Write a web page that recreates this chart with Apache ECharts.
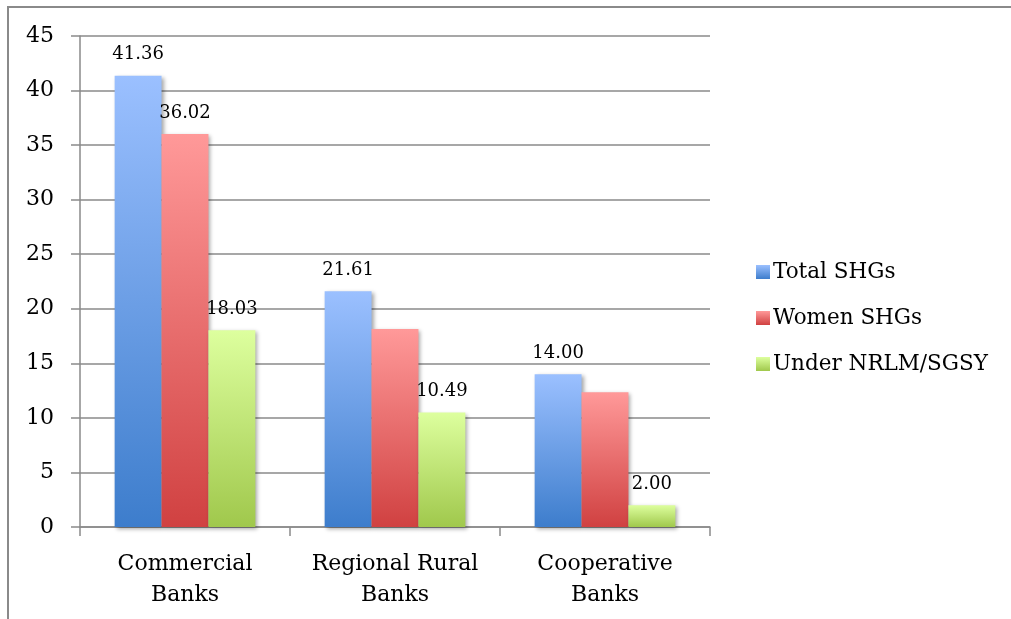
<!DOCTYPE html>
<html>
<head>
<meta charset="utf-8">
<script src="https://cdn.jsdelivr.net/npm/echarts@6/dist/echarts.min.js"></script>
<style>
  html, body { margin: 0; padding: 0; background: #fff; }
  #chart { width: 1011px; height: 619px; }
</style>
</head>
<body>
<div id="chart"></div>
<script>
// Bank categories along the x axis
const categories = ['Commercial\nBanks', 'Regional Rural\nBanks', 'Cooperative\nBanks'];

// Series values
const totalSHGs = [41.36, 21.61, 14.00];
const womenSHGs = [36.02, 18.15, 12.35];
const underNRLM = [18.03, 10.49, 2.00];

// Which points carry a value label
const totalLabelled = [true, true, true];
const womenLabelled = [true, false, false];
const nrlmLabelled = [true, true, true];

// Y axis ticks
const yTicks = [0, 5, 10, 15, 20, 25, 30, 35, 40, 45];

const FONT = 'DejaVu Serif';
const GRID_COLOR = '#8a8a8a';

function grad(top, bottom) {
  return new echarts.graphic.LinearGradient(0, 0, 0, 1, [
    { offset: 0, color: top },
    { offset: 1, color: bottom }
  ]);
}

const palette = {
  total: grad('#9bc0ff', '#3d7dcc'),
  women: grad('#ff9999', '#d04141'),
  nrlm: grad('#ddff9e', '#a0c84c')
};

function makeSeries(name, values, flags, fill) {
  return {
    name: name,
    type: 'bar',
    barGap: '0%',
    barCategoryGap: '33%',
    itemStyle: {
      color: fill,
      shadowColor: 'rgba(0,0,0,0.35)',
      shadowBlur: 4,
      shadowOffsetX: 2,
      shadowOffsetY: 2
    },
    data: values.map((v, i) => ({
      value: v,
      label: {
        show: flags[i],
        position: 'top',
        distance: 12,
        formatter: p => p.value.toFixed(2),
        fontFamily: FONT,
        fontSize: 18,
        color: '#000'
      }
    }))
  };
}

const chart = echarts.init(document.getElementById('chart'), null, { renderer: 'canvas' });

chart.setOption({
  animation: false,
  backgroundColor: '#fff',
  grid: { left: 80, right: 301, top: 36, bottom: 92, containLabel: false },
  legend: {
    orient: 'vertical',
    left: 751,
    top: 256,
    itemWidth: 14,
    itemHeight: 14,
    itemGap: 24,
    icon: 'rect',
    textStyle: { fontFamily: FONT, fontSize: 21.5, color: '#000', padding: [0, 0, 0, -2] },
    data: ['Total SHGs', 'Women SHGs', 'Under NRLM/SGSY']
  },
  xAxis: {
    type: 'category',
    data: categories,
    axisLine: { lineStyle: { color: GRID_COLOR, width: 1.5 } },
    axisTick: { show: true, length: 9, alignWithLabel: false, lineStyle: { color: GRID_COLOR, width: 1.5 } },
    axisLabel: {
      fontFamily: FONT,
      fontSize: 22,
      color: '#000',
      lineHeight: 31,
      margin: 22,
      interval: 0
    }
  },
  yAxis: {
    type: 'value',
    min: yTicks[0],
    max: yTicks[yTicks.length - 1],
    interval: yTicks[1] - yTicks[0],
    axisLine: { show: true, lineStyle: { color: GRID_COLOR, width: 1.5 } },
    axisTick: { show: true, length: 9, lineStyle: { color: GRID_COLOR, width: 1.5 } },
    splitLine: { lineStyle: { color: GRID_COLOR, width: 1.5 } },
    axisLabel: {
      fontFamily: FONT,
      fontSize: 22,
      color: '#000',
      margin: 26
    }
  },
  graphic: [
    {
      type: 'polyline',
      shape: { points: [[8, 619], [8, 7], [1011, 7]] },
      style: { stroke: '#8a8a8a', lineWidth: 2, fill: null },
      silent: true
    }
  ],
  series: [
    makeSeries('Total SHGs', totalSHGs, totalLabelled, palette.total),
    makeSeries('Women SHGs', womenSHGs, womenLabelled, palette.women),
    makeSeries('Under NRLM/SGSY', underNRLM, nrlmLabelled, palette.nrlm)
  ]
});
</script>
</body>
</html>
